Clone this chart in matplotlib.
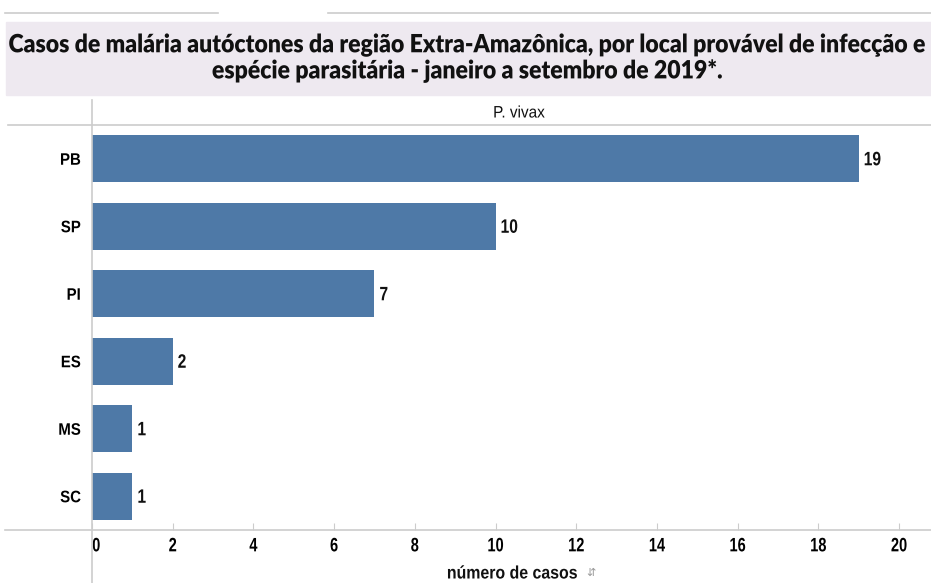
import matplotlib
matplotlib.use("Agg")
import matplotlib.pyplot as plt
import matplotlib.patheffects as pe
from matplotlib.lines import Line2D
from matplotlib.patches import Rectangle
from matplotlib.transforms import Affine2D

estados = ["PB", "SP", "PI", "ES", "MS", "SC"]
casos = [19, 10, 7, 2, 1, 1]
ticks = [0, 2, 4, 6, 8, 10, 12, 14, 16, 18, 20]

titulo = ("Casos de malária autóctones da região Extra-Amazônica, por local provável de infecção e\n"
          "espécie parasitária - janeiro a setembro de 2019*.")
especie = "P. vivax"
eixo_x = "número de casos"

BAR = "#4e79a7"
GRID = "#cccccc"
SANS = ["Liberation Sans", "DejaVu Sans"]


class Squeeze(pe.AbstractPathEffect):
    """Rescale a text's glyphs (no condensed font available)."""

    def __init__(self, sx, anchor="center", sy=1.0):
        super().__init__()
        self.sx = sx
        self.sy = sy
        self.anchor = anchor

    def draw_path(self, renderer, gc, tpath, affine, rgbFace=None):
        ext = affine.transform_path(tpath).get_extents()
        x0 = {"left": ext.x0, "right": ext.x1}.get(self.anchor, (ext.x0 + ext.x1) / 2)
        y0 = (ext.y0 + ext.y1) / 2
        sq = Affine2D().translate(-x0, -y0).scale(self.sx, self.sy).translate(x0, y0)
        renderer.draw_path(gc, tpath, affine + sq, rgbFace)


W, H = 931, 583
fig = plt.figure(figsize=(W / 100, H / 100), dpi=100)


def fx(px):
    return px / W


def fy(py):
    return 1 - py / H


# title band
fig.patches.append(Rectangle((fx(6), fy(95)), fx(925), fy(22) - fy(95),
                             transform=fig.transFigure, color="#eee9f0", zorder=0))
t = fig.text(fx(467), fy(58), titulo, ha="center", va="center", fontsize=16,
             fontweight="heavy", family=["Lato", "DejaVu Sans"], linespacing=1.3,
             color="#111111")
wid = t.get_window_extent(fig.canvas.get_renderer()).width
t.set_path_effects([Squeeze(917 / wid, sy=1.13)])

# header / frame rules
for x0, x1, y in [(5, 218, 13), (328, 931, 13), (8, 931, 125), (5, 931, 530)]:
    fig.add_artist(Line2D([fx(x0), fx(x1)], [fy(y), fy(y)], color=GRID, lw=1.2,
                          transform=fig.transFigure))
fig.add_artist(Line2D([fx(92), fx(92)], [fy(100), fy(583)], color=GRID, lw=1.2,
                      transform=fig.transFigure))

fig.text(fx(519), fy(113), especie, ha="center", va="center", fontsize=12,
         family=SANS, color="#111111", path_effects=[Squeeze(0.92)])

ax = fig.add_axes([fx(92), fy(530), fx(931 - 92), fy(125) - fy(530)])
y = list(range(len(estados)))
ax.barh(y, casos, height=0.7, color=BAR, zorder=2)
for yi, v in zip(y, casos):
    ax.text(v + 0.12, yi + 0.03, str(v), va="center", ha="left", fontsize=14,
            fontweight="bold", family=SANS, color="#111111",
            path_effects=[Squeeze(0.8, "left")])

ax.set_ylim(len(estados) - 0.5, -0.5)
ax.set_xlim(0, (931 - 92) / 40.35)
ax.set_yticks(y)
ax.set_yticklabels(estados, fontsize=12, fontweight="bold", family=SANS)
for lab in ax.get_yticklabels():
    lab.set_path_effects([Squeeze(0.9, "right")])
ax.set_xticks(ticks)
ax.set_xticklabels([str(v) for v in ticks], fontsize=14, fontweight="bold",
                   family=SANS)
for lab in ax.get_xticklabels():
    lab.set_path_effects([Squeeze(0.75)])
ax.get_xticklabels()[0].set_horizontalalignment("left")
ax.get_xticklabels()[0].set_path_effects([Squeeze(0.75, "left")])
ax.tick_params(axis="y", length=0, pad=8)
ax.tick_params(axis="x", length=5, color=GRID, pad=6, direction="in")
for s in ax.spines.values():
    s.set_visible(False)
ax.set_facecolor("none")

fig.text(fx(512), fy(574), eixo_x, ha="center", va="center", fontsize=13,
         fontweight="bold", family=SANS, color="#111111",
         path_effects=[Squeeze(0.88)])
fig.text(fx(591), fy(573), "\u21f5", ha="center", va="center", fontsize=8,
         family="DejaVu Sans", color="#999999")

fig.savefig("out.png", dpi=100)
